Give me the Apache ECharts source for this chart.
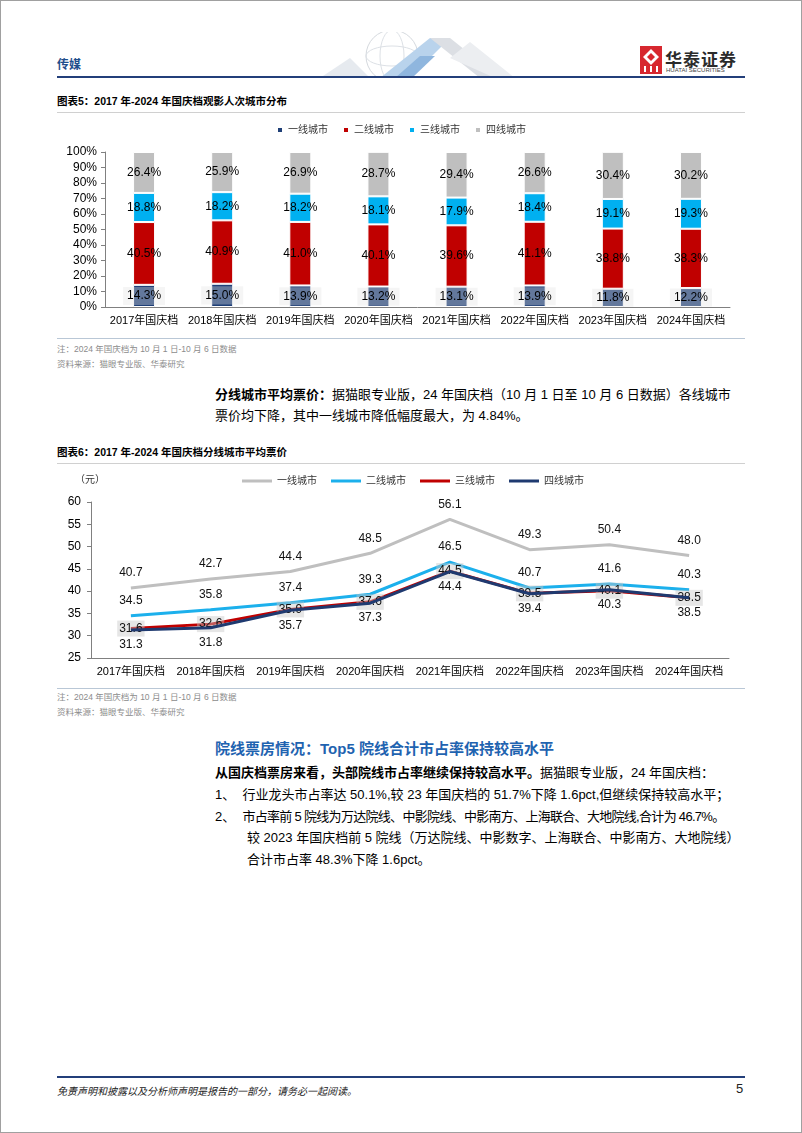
<!DOCTYPE html>
<html>
<head>
<meta charset="utf-8">
<script src="https://cdn.jsdelivr.net/npm/echarts@6/dist/echarts.min.js"></script>
<style>
  html, body { margin: 0; padding: 0; background: #fff; }
  body { width: 802px; height: 1133px; position: relative; overflow: hidden;
         font-family: "Liberation Sans", "Noto Sans CJK SC", sans-serif; color: #000; }
  .abs { position: absolute; white-space: nowrap; }
  .frame { left: 0; top: 0; width: 800px; height: 1131px; border: 1px solid #a0a0a0; }
  .hline { position: absolute; left: 57px; width: 688px; }
  .ctitle { left: 57px; font-size: 10.5px; font-weight: bold; }
  .note { left: 57px; font-size: 8.5px; color: #8c8c8c; }
  .para { left: 215px; font-size: 13px; line-height: 21px; }
  .chart { position: absolute; left: 0; width: 802px; }
</style>
</head>
<body>
<div class="abs frame"></div>

<!-- 页眉 -->
<div class="abs" style="left:57px;top:55px;font-size:12px;font-weight:bold;color:#1f4e8c;">传媒</div>
<svg class="abs" style="left:300px;top:32px" width="240" height="46">
  <circle cx="92" cy="24" r="26" fill="none" stroke="#d5d9de" stroke-width="1"/>
  <ellipse cx="92" cy="24" rx="26" ry="10" fill="none" stroke="#dde1e6" stroke-width="1"/>
  <ellipse cx="92" cy="24" rx="12" ry="26" fill="none" stroke="#dde1e6" stroke-width="1"/>
  <polygon points="20,46 50,26 70,46" fill="#e6eaef"/>
  <polygon points="80,46 130,6 150,6 110,46" fill="#b9d3ec"/>
  <polygon points="130,6 150,6 200,46 180,46" fill="#dcdfe4"/>
  <polygon points="150,26 170,10 215,46 195,46" fill="#eceef1"/>
  <polygon points="95,46 120,24 135,24 112,46" fill="#8fb6de"/>
</svg>
<svg class="abs" style="left:640px;top:46px" width="22" height="28">
  <rect x="0" y="0" width="22" height="28" fill="#d7282f"/>
  <polygon points="11,3 19,11 11,19 3,11" fill="#fff"/>
  <polygon points="11,7 15,11 11,15 7,11" fill="#d7282f"/>
  <rect x="4" y="20" width="2" height="6" fill="#fff"/>
  <rect x="10" y="20" width="2" height="6" fill="#fff"/>
  <rect x="16" y="20" width="2" height="6" fill="#fff"/>
</svg>
<div class="abs" style="left:665px;top:46px;font-size:17px;font-weight:bold;color:#2b2b2b;letter-spacing:1px;">华泰证券</div>
<div class="abs" style="left:666px;top:67px;font-size:6px;color:#444;">HUATAI SECURITIES</div>
<div class="hline" style="top:76px;height:2px;background:#233f7a;"></div>

<!-- 图表5 -->
<div class="abs ctitle" style="top:93px;">图表5：2017 年-2024 年国庆档观影人次城市分布</div>
<div class="hline" style="top:112px;height:1px;background:#d0d0d0;"></div>
<div id="chart1" class="chart" style="top:115px;height:220px;"></div>
<div class="hline" style="top:338px;height:1px;background:#b9c7d6;"></div>
<div class="abs note" style="top:342px;">注：2024 年国庆档为 10 月 1 日-10 月 6 日数据</div>
<div class="abs note" style="top:357px;">资料来源：猫眼专业版、华泰研究</div>

<div class="abs para" style="top:384px;"><b>分线城市平均票价：</b>据猫眼专业版，24 年国庆档（10 月 1 日至 10 月 6 日数据）各线城市</div>
<div class="abs para" style="top:405px;">票价均下降，其中一线城市降低幅度最大，为 4.84%。</div>

<!-- 图表6 -->
<div class="abs ctitle" style="top:444px;">图表6：2017 年-2024 年国庆档分线城市平均票价</div>
<div class="hline" style="top:463px;height:1px;background:#d0d0d0;"></div>
<div id="chart2" class="chart" style="top:465px;height:220px;"></div>
<div class="hline" style="top:688px;height:1px;background:#b9c7d6;"></div>
<div class="abs note" style="top:690px;">注：2024 年国庆档为 10 月 1 日-10 月 6 日数据</div>
<div class="abs note" style="top:705px;">资料来源：猫眼专业版、华泰研究</div>

<!-- 正文 -->
<div class="abs" style="left:215px;top:737px;font-size:15px;font-weight:bold;color:#1f63b0;">院线票房情况：Top5 院线合计市占率保持较高水平</div>
<div class="abs para" style="top:762px;"><b>从国庆档票房来看，头部院线市占率继续保持较高水平。</b>据猫眼专业版，24 年国庆档：</div>
<div class="abs para" style="top:784px;">1、&nbsp;&nbsp;行业龙头市占率达 50.1%,较 23 年国庆档的 51.7%下降 1.6pct,但继续保持较高水平；</div>
<div class="abs para" style="top:806px;">2、&nbsp;&nbsp;<span style="letter-spacing:-0.7px;">市占率前 5 院线为万达院线、中影院线、中影南方、上海联合、大地院线,合计为 46.7%。</span></div>
<div class="abs para" style="top:827px;left:247px;">较 2023 年国庆档前 5 院线（万达院线、中影数字、上海联合、中影南方、大地院线）</div>
<div class="abs para" style="top:849px;left:247px;">合计市占率 48.3%下降 1.6pct。</div>

<!-- 页脚 -->
<div class="hline" style="top:1076px;height:2px;background:#233f7a;"></div>
<div class="abs" style="left:57px;top:1083px;font-size:10px;font-style:italic;color:#222;">免责声明和披露以及分析师声明是报告的一部分，请务必一起阅读。</div>
<div class="abs" style="left:736px;top:1081px;font-size:13px;color:#222;">5</div>

<script>
// 年份类目
const categories = ['2017年国庆档', '2018年国庆档', '2019年国庆档', '2020年国庆档',
  '2021年国庆档', '2022年国庆档', '2023年国庆档', '2024年国庆档'];
const cityNames = ['一线城市', '二线城市', '三线城市', '四线城市'];

// 图表5：观影人次城市分布（%）
const shareTier1 = [14.3, 15.0, 13.9, 13.2, 13.1, 13.9, 11.8, 12.2];
const shareTier2 = [40.5, 40.9, 41.0, 40.1, 39.6, 41.1, 38.8, 38.3];
const shareTier3 = [18.8, 18.2, 18.2, 18.1, 17.9, 18.4, 19.1, 19.3];
const shareTier4 = [26.4, 25.9, 26.9, 28.7, 29.4, 26.6, 30.4, 30.2];

// 图表6：分线城市平均票价（元）
const priceTier1 = [40.7, 42.7, 44.4, 48.5, 56.1, 49.3, 50.4, 48.0];
const priceTier2 = [34.5, 35.8, 37.4, 39.3, 46.5, 40.7, 41.6, 40.3];
const priceTier3 = [31.6, 32.6, 35.9, 37.6, 44.5, 39.5, 40.1, 38.5];
const priceTier4 = [31.3, 31.8, 35.7, 37.3, 44.4, 39.4, 40.3, 38.5];

const font = '"Liberation Sans", "Noto Sans CJK SC", sans-serif';
const barColors = ['#1f3f77', '#c00000', '#00b0f0', '#bfbfbf'];
const lineColors = ['#bfbfbf', '#1cb0ec', '#c00000', '#1f3a70'];

const axisLineStyle = { lineStyle: { color: '#808080', width: 1 } };
const catLabel = { color: '#000', fontSize: 11, margin: 8, interval: 0 };

// 堆叠柱状图
const chart1 = echarts.init(document.getElementById('chart1'));
const shares = [shareTier1, shareTier2, shareTier3, shareTier4];
chart1.setOption({
  textStyle: { fontFamily: font },
  legend: {
    top: 5, left: 'center',
    itemWidth: 6, itemHeight: 6, itemGap: 14,
    icon: 'rect',
    textStyle: { fontSize: 10, color: '#333' },
    data: cityNames
  },
  grid: { left: 105, right: 72, top: 37, bottom: 28 },
  xAxis: {
    type: 'category',
    data: categories,
    axisLine: axisLineStyle,
    axisTick: { length: 5, lineStyle: { color: '#808080' } },
    axisLabel: catLabel
  },
  yAxis: {
    type: 'value',
    min: 0, max: 100, interval: 10,
    axisLine: { show: true, lineStyle: { color: '#808080' } },
    axisTick: { show: true, length: 4, lineStyle: { color: '#808080' } },
    splitLine: { show: false },
    axisLabel: { color: '#000', fontSize: 12, margin: 8, formatter: '{value}%' }
  },
  series: shares.map((vals, i) => ({
    name: cityNames[i],
    type: 'bar',
    stack: 'total',
    barWidth: 22,
    data: vals,
    itemStyle: { color: barColors[i], borderColor: '#fff', borderWidth: 1 },
    label: {
      show: true,
      position: 'inside',
      color: '#000',
      fontSize: 12,
      formatter: (p) => p.value.toFixed(1) + '%',
      backgroundColor: i === 0 ? 'rgba(225,225,225,0.35)' : 'transparent',
      padding: i === 0 ? [3, 4] : 0
    }
  }))
});

// 折线图
const chart2 = echarts.init(document.getElementById('chart2'));
const prices = [priceTier1, priceTier2, priceTier3, priceTier4];
const labelPos = ['top', 'top', 'inside', 'bottom'];
chart2.setOption({
  textStyle: { fontFamily: font },
  title: {
    text: '（元）', left: 70, top: 5,
    textStyle: { fontSize: 10, fontWeight: 'normal', color: '#333' }
  },
  legend: {
    top: 6, left: 237,
    itemWidth: 30, itemHeight: 3, itemGap: 14,
    textStyle: { fontSize: 10, color: '#333' },
    data: cityNames.map((n) => ({ name: n, icon: 'rect' }))
  },
  grid: { left: 91, right: 73, top: 37, bottom: 27 },
  xAxis: {
    type: 'category',
    data: categories,
    axisLine: axisLineStyle,
    axisTick: { length: 5, lineStyle: { color: '#808080' } },
    axisLabel: catLabel
  },
  yAxis: {
    type: 'value',
    min: 25, max: 60, interval: 5,
    axisLine: { show: true, lineStyle: { color: '#808080' } },
    axisTick: { show: true, length: 4, lineStyle: { color: '#808080' } },
    splitLine: { show: false },
    axisLabel: { color: '#000', fontSize: 12, margin: 10 }
  },
  series: prices.map((vals, i) => ({
    name: cityNames[i],
    type: 'line',
    data: vals,
    symbol: 'circle',
    symbolSize: 0,
    showSymbol: true,
    lineStyle: { color: lineColors[i], width: 3 },
    itemStyle: { color: lineColors[i] },
    z: 2 + i,
    label: {
      show: true,
      position: labelPos[i],
      distance: 9,
      color: '#111',
      fontSize: 12,
      formatter: (p) => p.value.toFixed(1),
      backgroundColor: i === 2 ? 'rgba(200,200,200,0.45)' : 'transparent',
      padding: i === 2 ? [2, 2] : 0
    }
  }))
});
</script>
</body>
</html>
